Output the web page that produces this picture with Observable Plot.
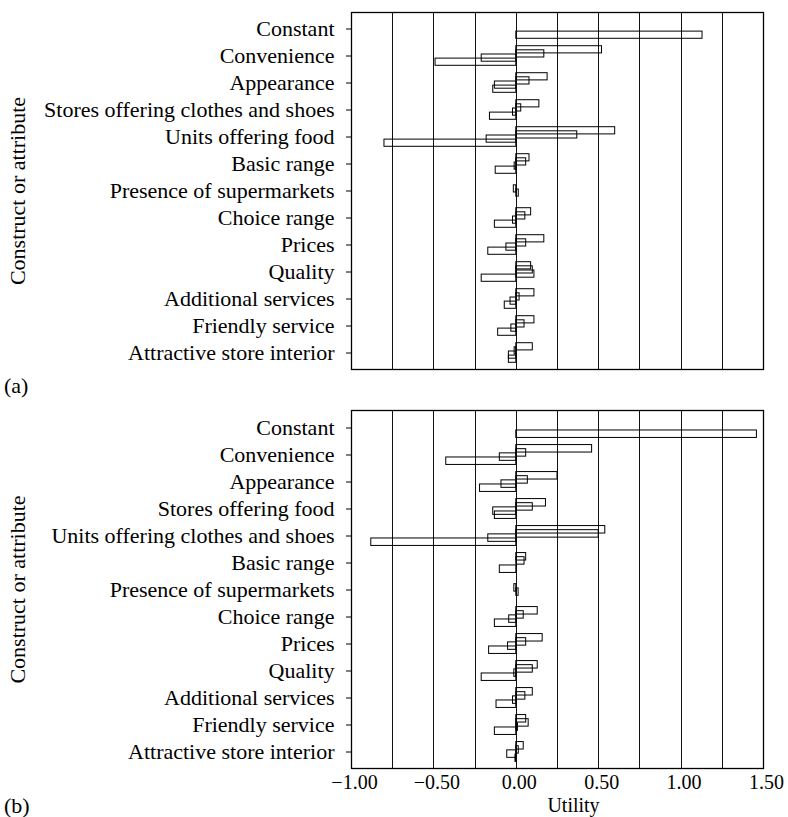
<!DOCTYPE html>
<html><head><meta charset="utf-8">
<script src="https://cdn.jsdelivr.net/npm/d3@7"></script>
<script src="https://cdn.jsdelivr.net/npm/@observablehq/plot@0.6"></script>
<style>
body{margin:0;background:#fff;}
#wrap{position:relative;width:788px;height:817px;font-family:"Liberation Serif",serif;color:#000;background:#fff;}
.plot{position:absolute;left:0;}
#wrap svg, #wrap svg text{font-family:"Liberation Serif",serif !important;}
.tag{position:absolute;left:4px;font-size:22px;line-height:1;font-family:"Liberation Serif",serif;}
</style></head><body><div id="wrap"></div>
<script>
// Panel (a)
const constructsA = ["Constant","Convenience","Appearance","Stores offering clothes and shoes","Units offering food","Basic range","Presence of supermarkets","Choice range","Prices","Quality","Additional services","Friendly service","Attractive store interior"];
const level1A = [null, 0.52, 0.19, 0.14, 0.60, 0.08, null, 0.09, 0.17, 0.09, 0.11, 0.11, 0.10];
const level2A = [null, 0.17, 0.08, 0.03, 0.37, 0.06, -0.015, 0.055, 0.06, 0.10, 0.02, 0.05, -0.01];
const level3A = [null, -0.21, -0.13, -0.02, -0.18, -0.01, 0.015, -0.02, -0.06, 0.11, -0.035, -0.03, -0.045];
const level4A = [1.13, -0.49, -0.14, -0.16, -0.80, -0.125, null, -0.13, -0.17, -0.21, -0.07, -0.11, -0.045];

// Panel (b)
const constructsB = ["Constant","Convenience","Appearance","Stores offering food","Units offering clothes and shoes","Basic range","Presence of supermarkets","Choice range","Prices","Quality","Additional services","Friendly service","Attractive store interior"];
const level1B = [null, 0.46, 0.25, 0.18, 0.54, 0.06, null, 0.13, 0.16, 0.13, 0.10, 0.06, 0.045];
const level2B = [null, 0.06, 0.07, 0.10, 0.50, 0.05, -0.012, 0.045, 0.06, 0.10, 0.055, 0.075, 0.015];
const level3B = [null, -0.10, -0.09, -0.14, -0.17, 0.0, 0.014, -0.043, -0.05, -0.012, -0.02, 0.01, -0.055];
const level4B = [1.46, -0.425, -0.22, -0.13, -0.88, -0.10, null, -0.13, -0.165, -0.21, -0.12, -0.13, -0.005];

const gridTicks = [-1, -0.75, -0.5, -0.25, 0, 0.25, 0.5, 0.75, 1, 1.25, 1.5];
const xTicks = [-1, -0.5, 0, 0.5, 1, 1.5];
const xLabel = "Utility";
const yLabel = "Construct or attribute";

// styling
const levelOffsets = [-6.2, -2.1, 2.1, 6.2];
const barH = 8;
const serif = "Liberation Serif";

function panel(constructs, levels, cfg) {
  const r0 = cfg.marginTop - cfg.extend;
  const r1 = cfg.height - cfg.marginBottom + cfg.extend;
  const band = (r1 - r0) / constructs.length;
  const inset = (band - barH) / 2;
  const marks = [
    Plot.ruleX(gridTicks, {stroke: "#111", strokeWidth: 1, shapeRendering: "crispEdges"})
  ];
  levels.forEach((vals, k) => {
    const rows = constructs.map((c, i) => ({construct: c, value: vals[i]})).filter(d => d.value != null);
    marks.push(Plot.barX(rows, {
      x1: 0, x2: "value", y: "construct",
      insetTop: inset, insetBottom: inset, dy: levelOffsets[k],
      fill: "none", stroke: "black", strokeWidth: 1
    }));
  });
  marks.push(Plot.frame({stroke: "black", strokeWidth: 1.3}));
  marks.push(Plot.axisY({
    tickSize: 5, tickPadding: 12, fontSize: 22, fontFamily: serif,
    label: yLabel, labelAnchor: "center", labelOffset: 342, labelArrow: false
  }));
  if (cfg.showX) {
    marks.push(Plot.axisX(xTicks, {
      tickSize: 0, tickPadding: 6, fontSize: 20, dx: 3, fontFamily: serif,
      tickFormat: d3.format(".2f"), label: null
    }));
    marks.push(Plot.text([xLabel], {
      text: d => d, frameAnchor: "bottom", lineAnchor: "top",
      dy: 29, dx: 16, fontSize: 20, fontFamily: serif, fill: "black"
    }));
  }
  return Plot.plot({
    width: 788, height: cfg.height,
    marginLeft: 351, marginRight: 25, marginTop: cfg.marginTop, marginBottom: cfg.marginBottom,
    x: {domain: [-1, 1.5], axis: cfg.showX ? undefined : null},
    y: {domain: constructs, padding: 0, range: [r0, r1]},
    style: {fontFamily: serif, fontSize: "22px", color: "black", background: "transparent", overflow: "visible"},
    marks
  });
}

const wrap = document.getElementById("wrap");
const pa = panel(constructsA, [level1A, level2A, level3A, level4A], {height: 395, marginTop: 12, marginBottom: 26, extend: 2.3, showX: false});
pa.classList.add("plot"); pa.style.top = "0px";
const pb = panel(constructsB, [level1B, level2B, level3B, level4B], {height: 422, marginTop: 15, marginBottom: 49, extend: 0, showX: true});
pb.classList.add("plot"); pb.style.top = "395px";
wrap.appendChild(pa); wrap.appendChild(pb);
const ta = document.createElement("div"); ta.className = "tag"; ta.style.top = "375px"; ta.textContent = "(a)";
const tb = document.createElement("div"); tb.className = "tag"; tb.style.top = "795px"; tb.textContent = "(b)";
wrap.appendChild(ta); wrap.appendChild(tb);
</script></body></html>
